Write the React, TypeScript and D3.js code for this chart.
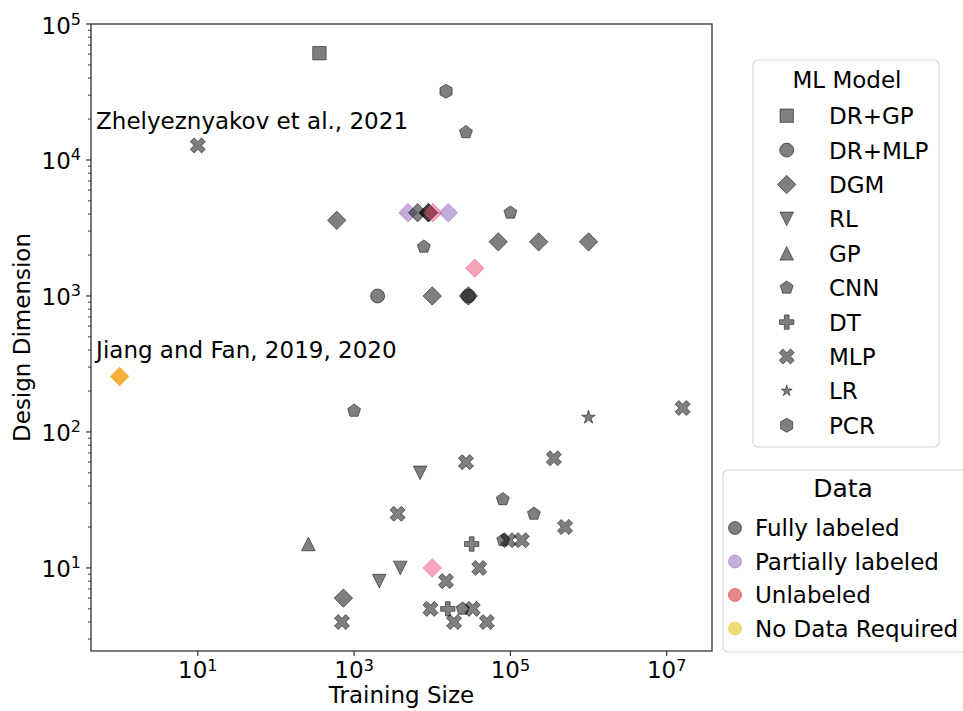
import React from "react";
import * as d3 from "d3";

// categories
const models = ["DR+GP", "DR+MLP", "DGM", "RL", "GP", "CNN", "DT", "MLP", "LR", "PCR"];
const dataKinds = ["Fully labeled", "Partially labeled", "Unlabeled", "No Data Required"];

// one entry per paper
const trainingSize = [
  360, 15000, 27000, 10, 600, 4900, 6500, 8900, 9000, 10200, 16000, 100000, 7800,
  70000, 230000, 1000000, 35000, 2000, 10000, 29000, 29000, 1, 1000, 1000000,
  16000000, 27000, 360000, 7000, 80000, 200000, 3600, 500000, 32000, 81000, 94000,
  140000, 260, 3900, 10000, 40000, 2100, 15000, 730, 9500, 15800, 24500, 33000,
  700, 19000, 50000,
];
const designDimension = [
  61000, 32000, 16000, 12800, 3600, 4096, 4096, 4096, 4096, 4096, 4096, 4096, 2300,
  2500, 2500, 2500, 1600, 1000, 1000, 1000, 1000, 256, 143, 128,
  150, 60, 64, 50, 32, 25, 25, 20, 15, 16, 16,
  16, 15, 10, 10, 10, 8, 8, 6, 5, 5, 5, 5,
  4, 4, 4,
];
const pointModel = [
  "DR+GP", "PCR", "CNN", "MLP", "DGM", "DGM", "DGM", "DGM", "DGM", "DGM", "DGM", "CNN", "CNN",
  "DGM", "DGM", "DGM", "DGM", "DR+MLP", "DGM", "DGM", "DR+MLP", "DGM", "CNN", "LR",
  "MLP", "MLP", "MLP", "RL", "CNN", "CNN", "MLP", "MLP", "DT", "CNN", "MLP",
  "MLP", "GP", "RL", "DGM", "MLP", "RL", "MLP", "DGM", "MLP", "DT", "CNN", "MLP",
  "MLP", "MLP", "MLP",
];
const pointData = [
  "Fully labeled", "Fully labeled", "Fully labeled", "Fully labeled", "Fully labeled",
  "Partially labeled", "Fully labeled", "Fully labeled", "Fully labeled", "Unlabeled",
  "Partially labeled", "Fully labeled", "Fully labeled",
  "Fully labeled", "Fully labeled", "Fully labeled", "Unlabeled", "Fully labeled",
  "Fully labeled", "Fully labeled", "Fully labeled", "No Data Required", "Fully labeled",
  "Fully labeled", "Fully labeled", "Fully labeled", "Fully labeled", "Fully labeled",
  "Fully labeled", "Fully labeled", "Fully labeled", "Fully labeled", "Fully labeled",
  "Fully labeled", "Fully labeled", "Fully labeled", "Fully labeled", "Fully labeled",
  "Unlabeled", "Fully labeled", "Fully labeled", "Fully labeled", "Fully labeled",
  "Fully labeled", "Fully labeled", "Fully labeled", "Fully labeled",
  "Fully labeled", "Fully labeled", "Fully labeled",
];

const xTicks = [1e1, 1e3, 1e5, 1e7];
const yTicks = [1e1, 1e2, 1e3, 1e4, 1e5];
const xDomain = [0.43, 3.8e7];
const yDomain = [2.45, 1e5];

const annotations = ["Zhelyeznyakov et al., 2021", "Jiang and Fan, 2019, 2020"];
const annotationX = [0.5, 0.5];
const annotationY = [17000, 350];

// colours of the points on the plot and in the data legend
const plotFill: Record<string, [string, number]> = {
  "Fully labeled": ["#000000", 0.5],
  "Partially labeled": ["#9467bd", 0.55],
  "Unlabeled": ["#ee4d72", 0.5],
  "No Data Required": ["#f7a21b", 0.85],
};
const legendFill: Record<string, [string, number]> = {
  "Fully labeled": ["#000000", 0.5],
  "Partially labeled": ["#9467bd", 0.55],
  "Unlabeled": ["#d62728", 0.55],
  "No Data Required": ["#e6c619", 0.6],
};

// custom symbol types, size = r^2 (r = half extent)
const poly = (n: number, rot: number) => ({
  draw(ctx: any, size: number) {
    const r = Math.sqrt(size);
    for (let i = 0; i < n; i++) {
      const a = rot + (i * 2 * Math.PI) / n;
      const x = r * Math.sin(a), y = -r * Math.cos(a);
      i === 0 ? ctx.moveTo(x, y) : ctx.lineTo(x, y);
    }
    ctx.closePath();
  },
});
const star = {
  draw(ctx: any, size: number) {
    const r = Math.sqrt(size), ri = r * 0.382;
    for (let i = 0; i < 10; i++) {
      const a = (i * Math.PI) / 5;
      const rr = i % 2 ? ri : r;
      const x = rr * Math.sin(a), y = -rr * Math.cos(a);
      i === 0 ? ctx.moveTo(x, y) : ctx.lineTo(x, y);
    }
    ctx.closePath();
  },
};
const cross = (rot: number) => ({
  draw(ctx: any, size: number) {
    const L = Math.sqrt(size), w = L / 3;
    const pts = [[-w, -L], [w, -L], [w, -w], [L, -w], [L, w], [w, w], [w, L], [-w, L], [-w, w], [-L, w], [-L, -w], [-w, -w]];
    const c = Math.cos(rot), s = Math.sin(rot);
    pts.forEach(([x, y], i) => {
      const px = x * c - y * s, py = x * s + y * c;
      i === 0 ? ctx.moveTo(px, py) : ctx.lineTo(px, py);
    });
    ctx.closePath();
  },
});
const square = {
  draw(ctx: any, size: number) {
    const r = Math.sqrt(size);
    ctx.rect(-r, -r, 2 * r, 2 * r);
  },
};
const circle = {
  draw(ctx: any, size: number) {
    const r = Math.sqrt(size);
    ctx.moveTo(r, 0);
    ctx.arc(0, 0, r, 0, 2 * Math.PI);
  },
};
const triangle = (down: boolean) => ({
  draw(ctx: any, size: number) {
    const r = Math.sqrt(size), k = down ? -1 : 1;
    ctx.moveTo(0, -r * k);
    ctx.lineTo(r, r * k);
    ctx.lineTo(-r, r * k);
    ctx.closePath();
  },
});

const markerType: Record<string, any> = {
  "DR+GP": square,
  "DR+MLP": circle,
  "DGM": poly(4, 0),
  "RL": triangle(true),
  "GP": triangle(false),
  "CNN": poly(5, 0),
  "DT": cross(0),
  "MLP": cross(Math.PI / 4),
  "LR": star,
  "PCR": poly(6, 0),
};
const markerR: Record<string, number> = {
  "DR+GP": 6.7, "DR+MLP": 7, "DGM": 9.2, "RL": 6.8, "GP": 6.8,
  "CNN": 6.8, "DT": 7.2, "MLP": 8, "LR": 7.2, "PCR": 7,
};
const markerPath = (m: string, scale = 1) =>
  d3.symbol().type(markerType[m]).size(Math.pow(markerR[m] * scale, 2))() as string;

const W = 963, H = 711;
const left = 91, right = 712, top = 24, bottom = 651;
const font = "DejaVu Sans, sans-serif";

export default function App() {
  const x = d3.scaleLog().domain(xDomain).range([left, right]);
  const y = d3.scaleLog().domain(yDomain).range([bottom, top]);

  const minorY: number[] = [];
  for (let d = 0; d <= 4; d++) {
    for (let k = 2; k <= 9; k++) {
      const v = k * Math.pow(10, d);
      if (v > yDomain[0] && v < yDomain[1]) minorY.push(v);
    }
  }

  const exp = (v: number) => Math.round(Math.log10(v));

  return (
    <div style={{ position: "absolute", left: 0, top: 0 }}>
      <svg width={W} height={H} style={{ display: "block", fontFamily: font }}>
        <rect width={W} height={H} fill="#fff" />

        {/* points */}
        {trainingSize.map((t, i) => {
          const [c, o] = plotFill[pointData[i]];
          return (
            <path
              key={i}
              d={markerPath(pointModel[i])}
              transform={`translate(${x(t)},${y(designDimension[i])})`}
              fill={c}
              fillOpacity={o}
              stroke={c}
              strokeOpacity={o}
              strokeWidth={1}
            />
          );
        })}

        {/* annotations */}
        {annotations.map((a, i) => (
          <text key={a} x={x(annotationX[i])} y={y(annotationY[i])} fontSize={23} fill="#000">
            {a}
          </text>
        ))}

        {/* frame */}
        <rect x={left} y={top} width={right - left} height={bottom - top} fill="none" stroke="#333" strokeWidth={1.3} />

        {/* y axis */}
        {minorY.map((v) => (
          <line key={"my" + v} x1={left - 3} x2={left} y1={y(v)} y2={y(v)} stroke="#333" strokeWidth={1} />
        ))}
        {yTicks.map((v) => (
          <g key={"y" + v}>
            <line x1={left - 5} x2={left} y1={y(v)} y2={y(v)} stroke="#333" strokeWidth={1.2} />
            <text x={81} y={y(v) + 9.5} textAnchor="end" fontSize={23} fill="#000">
              10<tspan dy={-9} fontSize={16}>{exp(v)}</tspan>
            </text>
          </g>
        ))}

        {/* x axis */}
        {xTicks.map((v) => (
          <g key={"x" + v}>
            <line x1={x(v)} x2={x(v)} y1={bottom} y2={bottom + 5} stroke="#333" strokeWidth={1.2} />
            <text x={x(v)} y={678} textAnchor="middle" fontSize={23} fill="#000">
              10<tspan dy={-7} fontSize={16}>{exp(v)}</tspan>
            </text>
          </g>
        ))}

        <text x={(left + right) / 2} y={703} textAnchor="middle" fontSize={23} fill="#000">
          Training Size
        </text>
        <text
          transform={`translate(30,${(top + bottom) / 2}) rotate(-90)`}
          textAnchor="middle"
          fontSize={23}
          fill="#000"
        >
          Design Dimension
        </text>

        {/* ML Model legend */}
        <rect x={753} y={60} width={186} height={387} rx={5} fill="#fff" stroke="#d5d5d5" strokeWidth={1.2} />
        <text x={847} y={88} textAnchor="middle" fontSize={23} fill="#000">ML Model</text>
        {models.map((m, i) => {
          const cy = 115.7 + i * 34.4;
          return (
            <g key={m}>
              <path
                d={markerPath(m, m === "LR" ? 0.8 : 1)}
                transform={`translate(786.7,${cy})`}
                fill="#000"
                fillOpacity={0.5}
                stroke="#000"
                strokeOpacity={0.5}
              />
              <text x={829} y={cy + 8.4} fontSize={23} fill="#000">{m}</text>
            </g>
          );
        })}

        {/* Data legend */}
        <rect x={723} y={470} width={260} height={182} rx={5} fill="#fff" stroke="#d5d5d5" strokeWidth={1.2} />
        <text x={843} y={497} textAnchor="middle" fontSize={25} fill="#000">Data</text>
        {dataKinds.map((k, i) => {
          const cy = 528 + i * 33.5;
          const [c, o] = legendFill[k];
          return (
            <g key={k}>
              <circle cx={735} cy={cy} r={6.5} fill={c} fillOpacity={o} stroke={c} strokeOpacity={o} />
              <text x={755} y={cy + 8.4} fontSize={23} fill="#000">{k}</text>
            </g>
          );
        })}
      </svg>
    </div>
  );
}
